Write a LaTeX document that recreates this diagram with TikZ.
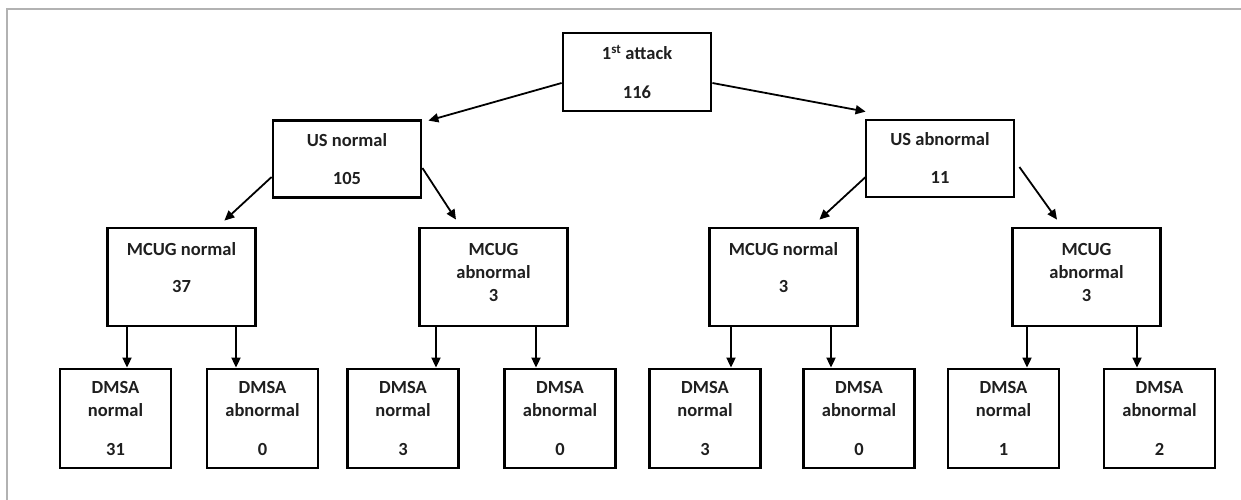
\documentclass[tikz,border=0pt]{standalone}
\usepackage{fontspec}
\setmainfont{Carlito}
\usetikzlibrary{arrows.meta}
\begin{document}
\begin{tikzpicture}[x=1pt,y=-1pt,
  box/.style={draw=black,line width=2.8pt,fill=white,inner sep=0pt,align=center,text=black!88,font=\bfseries\fontsize{18.5}{23}\selectfont},
  big/.style={box,minimum width=148pt,minimum height=77pt},
  mid/.style={box,minimum width=148pt,minimum height=98pt},
  leaf/.style={box,minimum width=111pt,minimum height=99pt},
  arr/.style={line width=1.8pt,-{Triangle[length=10pt,width=9pt]}},
  frame/.style={draw=black!30,line width=2pt}]
\useasboundingbox (0,0) rectangle (1241,500);
\draw[frame] (1241,9) -- (7,9) -- (7,500);

\node[big,minimum height=78pt] (top) at (637,72) {1\textsuperscript{st} attack\\[16pt]116};
\node[big] (usn) at (347,159) {US normal\\[15pt]105};
\node[big] (usa) at (940,158.5) {US abnormal\\[15pt]11};

\node[mid] (mn) at (181.5,277) {MCUG normal\\[14pt]37\rule[-19pt]{0pt}{19pt}};
\node[mid] (ma) at (493.5,277) {MCUG\\abnormal\\3\rule[-9pt]{0pt}{9pt}};
\node[mid] (mnr) at (783.5,277) {MCUG normal\\[14pt]3\rule[-19pt]{0pt}{19pt}};
\node[mid] (mar) at (1086.5,277) {MCUG\\abnormal\\3\rule[-9pt]{0pt}{9pt}};

\node[leaf] (d1) at (115.5,418.5) {DMSA\\normal\\[16pt]31};
\node[leaf] (d2) at (262.5,418.5) {DMSA\\abnormal\\[16pt]0};
\node[leaf] (d3) at (403,418.5) {DMSA\\normal\\[16pt]3};
\node[leaf] (d4) at (560,418.5) {DMSA\\abnormal\\[16pt]0};
\node[leaf] (d5) at (705,418.5) {DMSA\\normal\\[16pt]3};
\node[leaf] (d6) at (859,418.5) {DMSA\\abnormal\\[16pt]0};
\node[leaf] (d7) at (1003.5,418.5) {DMSA\\normal\\[16pt]1};
\node[leaf] (d8) at (1159.5,418.5) {DMSA\\abnormal\\[16pt]2};

\draw[arr] ([yshift=-11pt]top.west) -- ([xshift=6pt,yshift=-1.5pt]usn.north east);
\draw[arr] ([yshift=-11pt]top.east) -- ([xshift=1pt,yshift=7pt]usa.north west);

\draw[arr] ([yshift=-18pt]usn.west) -- ([xshift=-32.5pt,yshift=6pt]mn.north east);
\draw[arr] ([yshift=-9pt]usn.east) -- ([xshift=-37.5pt,yshift=7pt]ma.north);
\draw[arr] ([xshift=1pt,yshift=-18.5pt]usa.west) -- ([xshift=-39.5pt,yshift=7pt]mnr.north east);
\draw[arr] ([xshift=4pt,yshift=-8.5pt]usa.east) -- ([xshift=-29.5pt,yshift=7pt]mar.north);

\draw[arr] ([xshift=-54.5pt]mn.south) -- ([xshift=-54.5pt]mn.south |- d1.north);
\draw[arr] ([xshift=54.5pt]mn.south) -- ([xshift=54.5pt]mn.south |- d2.north);
\draw[arr] ([xshift=-57.5pt]ma.south) -- ([xshift=-57.5pt]ma.south |- d3.north);
\draw[arr] ([xshift=42.5pt]ma.south) -- ([xshift=42.5pt]ma.south |- d4.north);
\draw[arr] ([xshift=-52.5pt]mnr.south) -- ([xshift=-52.5pt]mnr.south |- d5.north);
\draw[arr] ([xshift=47.5pt]mnr.south) -- ([xshift=47.5pt]mnr.south |- d6.north);
\draw[arr] ([xshift=-59.5pt]mar.south) -- ([xshift=-59.5pt]mar.south |- d7.north);
\draw[arr] ([xshift=50.5pt]mar.south) -- ([xshift=50.5pt]mar.south |- d8.north);
\end{tikzpicture}
\end{document}
